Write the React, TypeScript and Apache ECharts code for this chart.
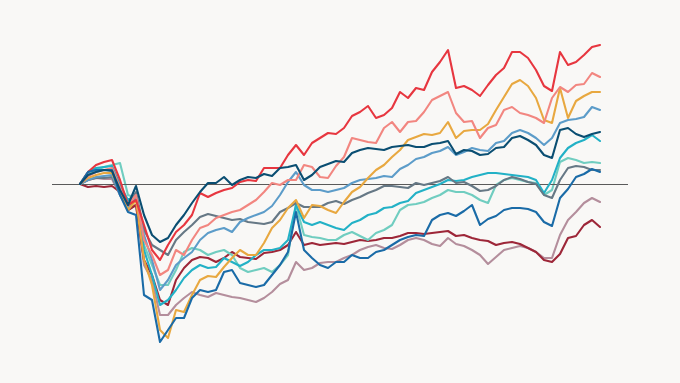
import React, { useEffect, useRef } from "react";
import * as echarts from "echarts";

// Percent change from the starting level, one value per sampled trading day
const red = [0,3,4.75,5.5,6,1,-5.25,-4,-10.25,-16.5,-19,-15.25,-12,-10.25,-7.75,-2.25,-3.25,-2.25,-1.5,-1,0.5,1,0.75,4,4,4,7.25,9.75,7.25,10.25,11.5,12.75,12.5,14,17,18,19.5,16.5,17.25,19,23,21.5,24,23.5,28,30.5,33.5,24,24.5,23.5,22,24.75,27.25,29,33,33,31.5,28.5,24.5,23.25,33,29.75,30.5,32.25,34.25,34.75];
const navy = [0,2.25,3,3.5,3.25,-1.5,-5.25,-0.5,-7.75,-12.75,-14.5,-13.5,-10.25,-7.75,-4.75,-2,0.25,0.25,1.75,-0.25,1,1.75,1.5,2.5,2,4,4.25,4.75,1,2.25,4.25,5,5.75,5.5,7.75,8.5,9,8.75,8.5,9.25,9.5,9.75,9.25,9.25,10,10.25,10.75,7.5,8.5,8.25,7.25,7.5,9,9.25,11.5,12,11,9.75,7.25,6.5,13.5,14,12.5,11.75,12.5,13];
const pink = [0,2,3,3.5,4,-1,-5.25,-2.75,-14,-17.75,-22.75,-21.5,-16.5,-17.75,-14,-11,-10.25,-8.5,-7.75,-7,-6.5,-5.25,-4,-2,0.25,-0.25,1,1,4.75,4.25,1.75,1.5,4.5,6.75,11.5,11,10.5,10.25,14,15.5,13,15.5,15.75,18,21,22,23,17.75,15.5,15.75,11.5,14,14.75,18.5,19.25,17.75,17.25,16.5,15.25,21.5,24.25,23,24.75,25,27.75,26.75];
const gold = [0,1.5,2.25,2.75,2.75,-2,-6.5,-4,-19,-25.25,-36.5,-38.5,-31.5,-32,-27.75,-24,-23,-23.25,-20.75,-18.5,-16.5,-17.75,-17.75,-14.75,-11,-9,-6,-4,-8.5,-5.25,-5.5,-6.5,-7.25,-4.5,-2,-0.75,1.5,3.5,4.75,6.75,8.5,11,11.75,12.5,12.25,12.75,15.5,11.5,13.25,13.5,13.5,15,18.5,21.75,25,26,24.5,21.5,16,15.25,24,16.5,20.75,22,23,23];
const lightBlue = [0,1,1.75,2,2.25,-2.75,-6,-3.5,-12.75,-19,-26.5,-24,-20.25,-18.5,-17,-14,-12.25,-11.5,-11,-12,-9.5,-8.5,-7.75,-7,-5.5,-2.75,0.5,3,-0.25,-1.5,-1.5,-2,-1.5,-1,0.25,1,1.25,1.5,2,1.75,3.75,4.75,6.25,6.75,7.75,8.25,9.25,7.25,8,9,8.5,8.25,10.25,10.75,12.75,13.5,12.75,11.5,9.75,11.5,15.25,16,16.25,16.75,19.25,18.5];
const gray = [0,1,1.5,1.5,1.75,-2.25,-5.25,-2,-11.5,-15.25,-16.5,-17.75,-14,-12,-10.25,-8.25,-7.5,-8,-8.5,-9,-8.75,-9.5,-9.75,-10,-9.5,-7,-6,-4.75,-5.75,-5.75,-5.75,-4.75,-4.25,-5,-4,-3.25,-2.25,-1.5,-0.5,-0.5,-0.75,-1,0.25,-0.25,0.25,0.75,1.75,0.25,0.5,-0.5,-1.75,-1.5,-0.5,1,1.75,1.25,0.5,0,-2.75,-3.5,1,4,4.5,4.25,3.5,3.5];
const cyan = [0,3,4,4.25,4.5,-0.25,-4,-2.75,-16.5,-22.75,-30.25,-29,-26.5,-23.5,-21.5,-20.25,-21,-20.75,-18.5,-19.5,-20.5,-19.5,-17.75,-16.5,-16.5,-16,-14,-5.25,-9.5,-10.25,-9.5,-10.25,-11,-11.5,-9.75,-9,-7.75,-7.25,-6,-5.75,-4.75,-4.25,-2.25,-1.5,-0.75,0,1,0.75,1,1.75,2.25,2.75,2.75,2.5,2.25,2,1.75,1,-2.25,1,6.5,9,10.25,11,12.25,10.75];
const lightTeal = [0,2.25,3.5,4.25,4.75,5.25,-2.75,-3.5,-15.25,-20.25,-25.25,-25.25,-21.5,-17,-16,-16.5,-17.75,-17,-16.5,-17.75,-21,-22,-21.5,-21,-22,-20.25,-17.75,-5.25,-12.75,-13.25,-13.5,-14,-14,-12.75,-12,-13,-14,-12.25,-11.5,-10.25,-6.5,-5.25,-5,-4.5,-3.5,-2.75,-1.5,-2,-2,-2.75,-4,-4.75,-0.25,1,1.5,1,0.5,0.25,-2.75,-1.5,5.5,6.5,6,5.25,5.5,5.25];
const blue = [0,3,3.5,3.5,3.5,-2.75,-7,-7.75,-27.75,-29,-39.5,-36.5,-33.5,-33.5,-28.5,-26.5,-27,-26.5,-22,-21.5,-24.75,-25.25,-25.75,-25.25,-22.75,-20.25,-17,-7,-16.5,-18.5,-20.25,-21,-19.5,-19.5,-17.75,-18.5,-18.5,-17,-16.5,-15.25,-14,-13.25,-12.75,-13,-9,-7.75,-7.25,-8,-6.75,-5.25,-10.25,-8.75,-8,-6.5,-6,-6,-6.25,-7,-9.5,-10.5,-3.5,-1.25,1.75,2.5,3.75,3];
const mauve = [0,1,1.5,1.25,1.25,-2.75,-6.5,-5.25,-20.25,-24,-32.75,-32.75,-30.25,-28.5,-27,-27.75,-28.25,-27.25,-27.75,-28.25,-28.5,-29,-29.5,-28.5,-27,-25,-24,-19.5,-21.5,-21,-19.75,-19.5,-19.5,-18.5,-17.75,-16.5,-15.75,-15.25,-16,-16.25,-15.25,-14,-13.5,-14,-15,-15.5,-13.5,-15,-15.5,-16.5,-17.75,-20,-18.25,-16.5,-16,-15.5,-16,-17,-18.5,-18.5,-12.75,-9,-7,-4.75,-3.5,-4.5];
const darkRed = [0,-0.75,-0.5,-0.75,-0.5,-2,-6.5,-5.25,-19,-22.75,-29,-30.25,-24,-21,-19,-18.25,-18.5,-19.5,-18.5,-17,-18.25,-18.5,-18.75,-17.25,-17,-16.5,-15.25,-12,-15.25,-14.75,-15.25,-15,-14.75,-15,-14.5,-14,-14.25,-14,-13.5,-13.5,-13,-12.25,-12.25,-12.5,-12.25,-12,-11.75,-13,-12.75,-13.5,-14,-14.25,-15.25,-14.75,-14.5,-15,-16,-17,-19,-19.5,-17.5,-13.5,-13,-10.25,-9,-10.75];

const SERIES: { name: string; data: number[]; color: string }[] = [
  { name: "Mauve", data: mauve, color: "#b48e9c" },
  { name: "Dark red", data: darkRed, color: "#9d2638" },
  { name: "Light teal", data: lightTeal, color: "#70cdc0" },
  { name: "Cyan", data: cyan, color: "#22b1c6" },
  { name: "Gray", data: gray, color: "#667885" },
  { name: "Light blue", data: lightBlue, color: "#5c9cc9" },
  { name: "Gold", data: gold, color: "#e8a840" },
  { name: "Pink", data: pink, color: "#f28680" },
  { name: "Red", data: red, color: "#e7363f" },
  { name: "Blue", data: blue, color: "#1a6ba7" },
  { name: "Navy", data: navy, color: "#0a4e72" },
];

export default function App() {
  const ref = useRef<HTMLDivElement>(null);
  useEffect(() => {
    if (!ref.current) return;
    const chart = echarts.init(ref.current, undefined, { renderer: "svg" });
    const series: any[] = SERIES.map((s, idx) => ({
      name: s.name,
      type: "line",
      data: s.data.map((v, i) => [i, v]),
      showSymbol: false,
      symbol: "none",
      silent: true,
      lineStyle: { color: s.color, width: 2.1, join: "round", cap: "round" },
      itemStyle: { color: s.color },
      z: 2 + idx,
    }));
    series.push({
      name: "Baseline",
      type: "line",
      data: [],
      z: 20,
      silent: true,
      markLine: {
        silent: true,
        symbol: "none",
        label: { show: false },
        lineStyle: { color: "#5a5a5a", width: 1, type: "solid" },
        data: [{ yAxis: 0 }],
      },
    });
    chart.setOption({
      animation: false,
      backgroundColor: "#f9f8f6",
      grid: { left: 52, right: 52, top: 0, bottom: 0 },
      xAxis: {
        type: "value",
        min: -3.5,
        max: 68.5,
        show: false,
      },
      yAxis: {
        type: "value",
        min: -49.75,
        max: 46,
        show: false,
      },
      tooltip: { show: false },
      series,
    });
    return () => chart.dispose();
  }, []);
  return (
    <div
      ref={ref}
      style={{ position: "absolute", left: 0, top: 0, width: 680, height: 383 }}
    />
  );
}
